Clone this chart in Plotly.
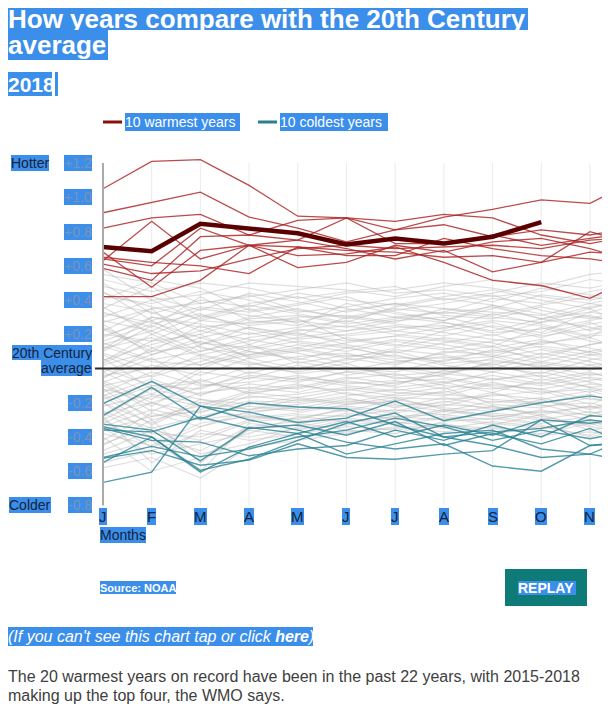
import plotly.graph_objects as go

# month positions (J..D), the chart is cropped just past November
months = ['J', 'F', 'M', 'A', 'M', 'J', 'J', 'A', 'S', 'O', 'N', 'D']

# 2018 anomaly, January to October
year_2018 = [0.71, 0.685, 0.845, 0.82, 0.79, 0.725, 0.76, 0.73, 0.77, 0.855]

# ten warmest years
warmest = [
    [1.05, 1.21, 1.22, 1.07, 0.89, 0.88, 0.86, 0.90, 0.88, 0.78, 0.73, 0.78],
    [0.82, 0.88, 0.90, 0.78, 0.865, 0.88, 0.81, 0.885, 0.93, 0.985, 0.965, 1.11],
    [0.91, 0.97, 1.03, 0.885, 0.82, 0.74, 0.81, 0.84, 0.77, 0.81, 0.78, 0.83],
    [0.63, 0.86, 0.64, 0.72, 0.75, 0.88, 0.73, 0.73, 0.78, 0.72, 0.76, 0.80],
    [0.68, 0.475, 0.69, 0.72, 0.71, 0.69, 0.68, 0.65, 0.66, 0.62, 0.80, 0.72],
    [0.61, 0.555, 0.57, 0.64, 0.70, 0.72, 0.70, 0.71, 0.72, 0.70, 0.75, 0.77],
    [0.585, 0.515, 0.77, 0.78, 0.75, 0.70, 0.64, 0.69, 0.565, 0.62, 0.68, 0.66],
    [0.42, 0.42, 0.515, 0.72, 0.66, 0.67, 0.71, 0.62, 0.515, 0.485, 0.41, 0.55],
    [0.65, 0.62, 0.60, 0.555, 0.71, 0.66, 0.66, 0.76, 0.70, 0.66, 0.64, 0.60],
    [0.64, 0.60, 0.82, 0.72, 0.59, 0.62, 0.72, 0.68, 0.74, 0.76, 0.70, 0.62],
]

# ten coldest years
coldest = [
    [-0.205, -0.075, -0.22, -0.255, -0.315, -0.29, -0.19, -0.305, -0.25, -0.20, -0.16, -0.20],
    [-0.275, -0.11, -0.295, -0.20, -0.225, -0.235, -0.33, -0.40, -0.45, -0.52, -0.50, -0.55],
    [-0.325, -0.36, -0.54, -0.345, -0.38, -0.31, -0.40, -0.33, -0.39, -0.30, -0.45, -0.42],
    [-0.35, -0.42, -0.43, -0.51, -0.47, -0.45, -0.36, -0.42, -0.33, -0.40, -0.275, -0.30],
    [-0.36, -0.37, -0.285, -0.35, -0.33, -0.39, -0.31, -0.45, -0.38, -0.44, -0.35, -0.47],
    [-0.52, -0.455, -0.515, -0.47, -0.40, -0.36, -0.29, -0.34, -0.42, -0.36, -0.41, -0.36],
    [-0.525, -0.48, -0.565, -0.535, -0.44, -0.52, -0.53, -0.50, -0.48, -0.30, -0.32, -0.28],
    [-0.55, -0.40, -0.605, -0.46, -0.38, -0.50, -0.44, -0.38, -0.36, -0.47, -0.50, -0.38],
    [-0.665, -0.605, -0.22, -0.30, -0.36, -0.43, -0.47, -0.44, -0.57, -0.60, -0.45, -0.43],
    [-0.34, -0.40, -0.595, -0.53, -0.42, -0.32, -0.26, -0.40, -0.37, -0.35, -0.30, -0.33],
]

# all the other years, drawn in grey
other_years = [
    [0.42, 0.38, 0.45, 0.40, 0.33, 0.36, 0.41, 0.44, 0.39, 0.47, 0.43, 0.40],
    [0.35, 0.48, 0.30, 0.38, 0.42, 0.35, 0.30, 0.33, 0.41, 0.38, 0.45, 0.50],
    [0.28, 0.22, 0.35, 0.31, 0.27, 0.34, 0.38, 0.31, 0.29, 0.36, 0.30, 0.26],
    [0.50, 0.32, 0.40, 0.36, 0.44, 0.40, 0.37, 0.42, 0.46, 0.40, 0.35, 0.42],
    [0.18, 0.30, 0.26, 0.20, 0.24, 0.28, 0.22, 0.19, 0.25, 0.21, 0.33, 0.28],
    [0.24, 0.12, 0.20, 0.29, 0.31, 0.26, 0.30, 0.27, 0.22, 0.29, 0.24, 0.18],
    [0.10, 0.25, 0.15, 0.12, 0.18, 0.22, 0.25, 0.21, 0.17, 0.14, 0.20, 0.24],
    [0.32, 0.27, 0.18, 0.24, 0.20, 0.16, 0.19, 0.24, 0.28, 0.25, 0.18, 0.35],
    [0.05, 0.14, 0.22, 0.17, 0.12, 0.18, 0.14, 0.11, 0.16, 0.20, 0.27, 0.15],
    [0.15, 0.05, 0.10, 0.16, 0.21, 0.14, 0.09, 0.15, 0.20, 0.12, 0.08, 0.10],
    [0.22, 0.35, 0.12, 0.08, 0.14, 0.10, 0.16, 0.12, 0.07, 0.16, 0.12, 0.05],
    [-0.02, 0.08, 0.18, 0.10, 0.05, 0.12, 0.07, 0.04, 0.11, 0.06, 0.14, 0.20],
    [0.08, -0.05, 0.04, 0.13, 0.09, 0.03, 0.11, 0.08, 0.02, 0.09, 0.04, -0.03],
    [0.12, 0.18, 0.07, 0.02, 0.07, 0.09, 0.03, 0.09, 0.13, 0.04, 0.00, 0.08],
    [-0.08, 0.02, -0.04, 0.06, 0.00, 0.05, 0.08, 0.02, -0.02, 0.04, 0.10, 0.02],
    [0.02, 0.10, 0.13, 0.04, -0.03, 0.00, -0.02, 0.05, 0.07, 0.00, -0.06, -0.10],
    [-0.12, -0.18, -0.02, -0.06, 0.02, -0.04, 0.01, -0.03, 0.03, -0.05, 0.02, 0.06],
    [0.00, -0.10, -0.12, -0.02, -0.07, -0.02, -0.05, -0.08, -0.04, -0.09, -0.03, -0.07],
    [-0.05, 0.06, -0.09, -0.12, -0.05, -0.08, -0.10, -0.01, -0.07, -0.02, -0.08, -0.14],
    [-0.18, -0.08, -0.15, -0.09, -0.12, -0.06, -0.03, -0.10, -0.12, -0.08, -0.14, -0.05],
    [-0.10, -0.22, -0.06, -0.15, -0.10, -0.13, -0.08, -0.06, -0.11, -0.15, -0.09, -0.12],
    [-0.22, -0.15, -0.20, -0.17, -0.15, -0.11, -0.14, -0.16, -0.09, -0.12, -0.18, -0.20],
    [-0.15, -0.28, -0.25, -0.19, -0.20, -0.16, -0.12, -0.15, -0.18, -0.20, -0.15, -0.25],
    [-0.28, -0.12, -0.18, -0.24, -0.18, -0.21, -0.19, -0.13, -0.20, -0.17, -0.24, -0.16],
    [-0.25, -0.35, -0.28, -0.22, -0.25, -0.19, -0.22, -0.20, -0.14, -0.22, -0.20, -0.28],
    [-0.32, -0.20, -0.30, -0.26, -0.22, -0.25, -0.18, -0.23, -0.25, -0.18, -0.26, -0.22],
    [-0.38, -0.45, -0.32, -0.28, -0.30, -0.23, -0.26, -0.21, -0.23, -0.26, -0.22, -0.30],
    [-0.20, -0.38, -0.40, -0.30, -0.27, -0.28, -0.24, -0.27, -0.30, -0.24, -0.30, -0.35],
    [-0.45, -0.30, -0.55, -0.35, -0.33, -0.26, -0.30, -0.25, -0.28, -0.32, -0.28, -0.24],
    [-0.35, -0.50, -0.44, -0.38, -0.28, -0.31, -0.28, -0.30, -0.26, -0.29, -0.34, -0.38],
    [-0.50, -0.42, -0.60, -0.32, -0.36, -0.30, -0.33, -0.29, -0.33, -0.27, -0.36, -0.32],
    [-0.28, -0.55, -0.36, -0.42, -0.38, -0.34, -0.36, -0.33, -0.35, -0.38, -0.32, -0.40],
    [0.30, 0.40, 0.28, 0.26, 0.30, 0.31, 0.27, 0.35, 0.33, 0.31, 0.38, 0.33],
    [0.45, 0.28, 0.36, 0.33, 0.37, 0.42, 0.33, 0.28, 0.35, 0.43, 0.40, 0.45],
    [0.20, 0.16, 0.28, 0.35, 0.26, 0.22, 0.28, 0.30, 0.24, 0.18, 0.26, 0.30],
    [0.14, 0.22, 0.10, 0.18, 0.22, 0.25, 0.20, 0.17, 0.13, 0.24, 0.16, 0.12],
    [0.26, 0.08, 0.16, 0.07, 0.11, 0.06, 0.12, 0.18, 0.15, 0.08, 0.14, 0.18],
    [0.04, 0.20, 0.08, 0.14, 0.03, 0.08, 0.05, 0.00, 0.06, 0.11, 0.06, 0.01],
    [-0.04, 0.00, 0.06, -0.03, 0.04, -0.01, 0.04, 0.07, 0.01, -0.03, 0.05, 0.10],
    [0.06, -0.12, -0.08, 0.01, -0.02, 0.03, -0.06, -0.04, 0.04, 0.02, -0.04, 0.00],
    [-0.14, -0.02, -0.10, -0.08, -0.04, -0.09, -0.07, -0.12, -0.06, -0.10, -0.05, -0.09],
    [-0.08, -0.25, -0.14, -0.11, -0.14, -0.07, -0.11, -0.08, -0.14, -0.06, -0.11, -0.17],
    [-0.30, -0.16, -0.22, -0.13, -0.09, -0.15, -0.17, -0.18, -0.16, -0.13, -0.21, -0.10],
    [-0.20, -0.32, -0.18, -0.21, -0.17, -0.20, -0.15, -0.11, -0.21, -0.23, -0.17, -0.23],
    [-0.42, -0.26, -0.34, -0.25, -0.23, -0.18, -0.21, -0.25, -0.19, -0.21, -0.28, -0.26],
    [-0.26, -0.40, -0.48, -0.34, -0.31, -0.27, -0.29, -0.24, -0.27, -0.30, -0.25, -0.33],
    [-0.55, -0.48, -0.38, -0.40, -0.35, -0.33, -0.31, -0.35, -0.31, -0.34, -0.39, -0.29],
    [-0.40, -0.60, -0.52, -0.36, -0.40, -0.37, -0.35, -0.32, -0.38, -0.35, -0.30, -0.42],
    [0.38, 0.33, 0.22, 0.30, 0.35, 0.29, 0.34, 0.38, 0.43, 0.34, 0.29, 0.36],
    [0.16, 0.26, 0.32, 0.23, 0.17, 0.20, 0.24, 0.25, 0.19, 0.27, 0.35, 0.22],
    [0.09, 0.00, 0.14, 0.21, 0.15, 0.12, 0.17, 0.14, 0.09, 0.13, 0.10, 0.16],
    [-0.06, 0.12, 0.02, 0.08, 0.12, 0.07, 0.10, 0.03, 0.05, 0.01, 0.08, 0.04],
    [-0.16, -0.06, -0.16, -0.05, -0.08, -0.02, 0.00, -0.05, -0.10, -0.12, -0.07, -0.02],
    [-0.12, -0.30, -0.24, -0.14, -0.17, -0.12, -0.16, -0.14, -0.08, -0.14, -0.12, -0.18],
    [-0.34, -0.24, -0.30, -0.20, -0.24, -0.22, -0.25, -0.19, -0.24, -0.19, -0.23, -0.15],
    [-0.48, -0.36, -0.42, -0.31, -0.29, -0.24, -0.28, -0.27, -0.22, -0.28, -0.33, -0.27],
    [0.48, 0.42, 0.34, 0.44, 0.39, 0.33, 0.38, 0.35, 0.31, 0.37, 0.42, 0.38],
    [0.33, 0.24, 0.42, 0.28, 0.25, 0.38, 0.32, 0.28, 0.37, 0.32, 0.22, 0.29],
    [0.11, 0.30, 0.24, 0.27, 0.29, 0.17, 0.13, 0.22, 0.27, 0.19, 0.23, 0.31],
    [-0.02, -0.15, 0.00, 0.10, 0.06, 0.01, -0.04, -0.02, 0.00, 0.07, 0.02, -0.05],
    [0.52, 0.45, 0.50, 0.47, 0.41, 0.45, 0.48, 0.40, 0.44, 0.50, 0.47, 0.52],
    [0.55, 0.50, 0.38, 0.42, 0.46, 0.50, 0.44, 0.46, 0.42, 0.45, 0.52, 0.48],
    [0.40, 0.52, 0.47, 0.34, 0.38, 0.44, 0.46, 0.50, 0.47, 0.42, 0.38, 0.44],
    [0.27, 0.35, 0.38, 0.43, 0.34, 0.30, 0.35, 0.32, 0.36, 0.29, 0.33, 0.40],
    [0.36, 0.20, 0.31, 0.25, 0.28, 0.24, 0.29, 0.33, 0.30, 0.27, 0.31, 0.24],
    [0.19, 0.28, 0.14, 0.24, 0.19, 0.30, 0.26, 0.23, 0.32, 0.26, 0.19, 0.21],
    [0.03, 0.16, 0.20, 0.06, 0.10, 0.15, 0.19, 0.16, 0.12, 0.17, 0.09, 0.13],
    [-0.10, -0.04, 0.08, 0.03, -0.01, 0.06, 0.02, 0.10, 0.08, 0.03, -0.01, 0.05],
    [-0.20, -0.10, -0.07, -0.14, -0.11, -0.05, -0.09, -0.03, -0.06, -0.04, -0.11, -0.08],
    [-0.26, -0.20, -0.26, -0.16, -0.19, -0.14, -0.20, -0.22, -0.15, -0.18, -0.13, -0.21],
    [-0.36, -0.28, -0.22, -0.29, -0.26, -0.21, -0.17, -0.24, -0.28, -0.25, -0.27, -0.19],
    [-0.44, -0.34, -0.50, -0.44, -0.34, -0.29, -0.32, -0.28, -0.32, -0.35, -0.31, -0.36],
    [-0.58, -0.52, -0.64, -0.46, -0.42, -0.38, -0.34, -0.37, -0.34, -0.39, -0.37, -0.40],
    [-0.30, -0.46, -0.34, -0.27, -0.32, -0.36, -0.38, -0.31, -0.29, -0.33, -0.40, -0.34],
    [0.44, 0.36, 0.29, 0.37, 0.32, 0.27, 0.36, 0.41, 0.37, 0.29, 0.36, 0.41],
    [0.13, 0.04, 0.02, 0.11, 0.16, 0.13, 0.06, 0.06, 0.10, 0.15, 0.18, 0.09],
    [-0.07, -0.20, -0.11, -0.04, -0.06, -0.10, -0.13, -0.09, -0.02, -0.07, -0.02, -0.11],
    [-0.16, -0.33, -0.20, -0.24, -0.21, -0.17, -0.23, -0.17, -0.22, -0.27, -0.22, -0.26],
    [0.58, 0.40, 0.43, 0.50, 0.48, 0.46, 0.42, 0.48, 0.52, 0.48, 0.55, 0.58],
    [0.23, 0.10, 0.25, 0.14, 0.23, 0.19, 0.22, 0.27, 0.21, 0.23, 0.28, 0.34],
]

y_ticks = [1.2, 1.0, 0.8, 0.6, 0.4, 0.2, -0.2, -0.4, -0.6, -0.8]

HIGHLIGHT = '#3b8eea'
DARK = '#14233a'
FONT = 'Liberation Sans, Arial, sans-serif'

# the page puts the figure 8px in from the top-left corner; all positions
# below are page pixels and get shifted by OFF
OFF = 8
FIG_W, FIG_H = 610 - OFF, 704 - OFF
L, T = 102 - OFF, 146 - OFF
B = FIG_H - (514 - OFF)
W, H = FIG_W - L, FIG_H - T - B
PX_PER_MONTH = 48.7
x_range = [-0.02, -0.02 + W / PX_PER_MONTH]
y_range = [-0.85, 1.3]
PX_PER_UNIT = H / (y_range[1] - y_range[0])
ZERO_Y = 146 + y_range[1] * PX_PER_UNIT


def px_x(x):
    return (max(x, OFF) - OFF - L) / W


def px_y(y):
    return 1 - (max(y, OFF) - OFF - T) / H


fig = go.Figure()
x = list(range(12))

for vals in other_years:
    fig.add_trace(go.Scatter(x=x, y=vals, mode='lines', hoverinfo='skip',
                             line=dict(color='rgba(178,178,178,0.42)', width=1.2)))
for vals in coldest:
    fig.add_trace(go.Scatter(x=x, y=vals, mode='lines', hoverinfo='skip',
                             line=dict(color='rgba(40,130,148,0.8)', width=1.4)))
for vals in warmest:
    fig.add_trace(go.Scatter(x=x, y=vals, mode='lines', hoverinfo='skip',
                             line=dict(color='rgba(170,30,30,0.8)', width=1.3)))
fig.add_trace(go.Scatter(x=x[:len(year_2018)], y=year_2018, mode='lines',
                         line=dict(color='#5a0000', width=4.5)))

shapes = []
# month grid lines
for i in range(1, 12):
    shapes.append(dict(type='line', xref='x', yref='y', x0=i, x1=i, y0=-0.8, y1=1.2,
                       line=dict(color='#ebebeb', width=1), layer='below'))
# left axis
shapes.append(dict(type='line', xref='x', yref='y', x0=0, x1=0, y0=-0.8, y1=1.2,
                   line=dict(color='#aaaaaa', width=2)))
# 20th century average line
shapes.append(dict(type='line', xref='paper', yref='y', x0=px_x(95), x1=1, y0=0, y1=0,
                   line=dict(color='#2b2b2b', width=2)))
# legend swatches
shapes.append(dict(type='line', xref='paper', yref='paper', x0=px_x(103), x1=px_x(122),
                   y0=px_y(122), y1=px_y(122), line=dict(color='#8b0e0e', width=3)))
shapes.append(dict(type='line', xref='paper', yref='paper', x0=px_x(258), x1=px_x(277),
                   y0=px_y(122), y1=px_y(122), line=dict(color='#2b7f8f', width=3)))
# selection bar after 2018
shapes.append(dict(type='rect', xref='paper', yref='paper', x0=px_x(55), x1=px_x(58),
                   y0=px_y(96), y1=px_y(72), line=dict(width=0), fillcolor=HIGHLIGHT))
# replay button
shapes.append(dict(type='rect', xref='paper', yref='paper', x0=px_x(505), x1=px_x(587),
                   y0=px_y(606), y1=px_y(569), line=dict(width=0), fillcolor='#0f7b79'))

annotations = []


def box(text, x, y, w=None, h=None, size=14, color='white', bg=HIGHLIGHT,
        xanchor='left', align='left'):
    a = dict(text=text, xref='paper', yref='paper', x=px_x(x), y=px_y(y),
             xanchor=xanchor, yanchor='top', showarrow=False, align=align,
             font=dict(family=FONT, size=size, color=color),
             bgcolor=bg, borderpad=0, borderwidth=0)
    if w is not None:
        a['width'] = w
    if h is not None:
        a['height'] = h
    annotations.append(a)


# titles (the top edge of the page trims the first line's highlight)
box('<b>How years compare with the 20th Century</b>', 4, 0, w=520, h=22, size=26)
box('<b>average</b>', 4, 30, w=100, h=30, size=26)
box('<b>2018</b>', 4, 72, w=44, h=24, size=21)

# legend
box('10 warmest years', 125, 113, w=115, h=18, size=14)
box('10 coldest years', 280, 113, w=108, h=18, size=14)

# y labels
for v in y_ticks:
    yy = ZERO_Y - v * PX_PER_UNIT
    label = f'+{v:.1f}' if v > 0 else f'-{abs(v):.1f}'
    box(label, 92, yy - 8, h=16, size=14, color='#7d93b5', xanchor='right', align='right')
box('20th Century', 92, 345, h=15, size=14, color=DARK, xanchor='right', align='right')
box('average', 92, 360, h=16, size=14, color=DARK, xanchor='right', align='right')
box('Hotter', 11, 155, h=16, size=14, color=DARK)
box('Colder', 9, 497, h=16, size=14, color=DARK)

# month labels
for i, m in enumerate(months[:11]):
    annotations.append(dict(text=m, xref='x', yref='paper', x=i, y=px_y(508),
                            xanchor='center', yanchor='top', showarrow=False,
                            font=dict(family=FONT, size=15, color=DARK),
                            bgcolor=HIGHLIGHT, borderpad=0, borderwidth=0, height=17))
box('Months', 100, 527, h=16, size=14, color=DARK)

# footer
box('<b>Source: NOAA</b>', 100, 581, h=13, size=11)
box('<b>REPLAY</b>', 518, 581, w=58, h=14, size=14)
box('<i>(If you can\'t see this chart tap or click <b>here</b>)</i>', 4, 627,
    w=305, h=19, size=16)
box('The 20 warmest years on record have been in the past 22 years, with 2015-2018',
    4, 666, h=20, size=16, color='#404040', bg='rgba(0,0,0,0)')
box('making up the top four, the WMO says.',
    4, 686, h=18, size=16, color='#404040', bg='rgba(0,0,0,0)')

fig.update_layout(
    width=FIG_W, height=FIG_H,
    margin=dict(l=L, r=0, t=T, b=B),
    paper_bgcolor='white', plot_bgcolor='white',
    showlegend=False,
    xaxis=dict(range=x_range, showgrid=False, zeroline=False, showticklabels=False,
               fixedrange=True),
    yaxis=dict(range=y_range, showgrid=False, zeroline=False, showticklabels=False,
               fixedrange=True),
    shapes=shapes,
    annotations=annotations,
)

fig.write_html('out.html')
